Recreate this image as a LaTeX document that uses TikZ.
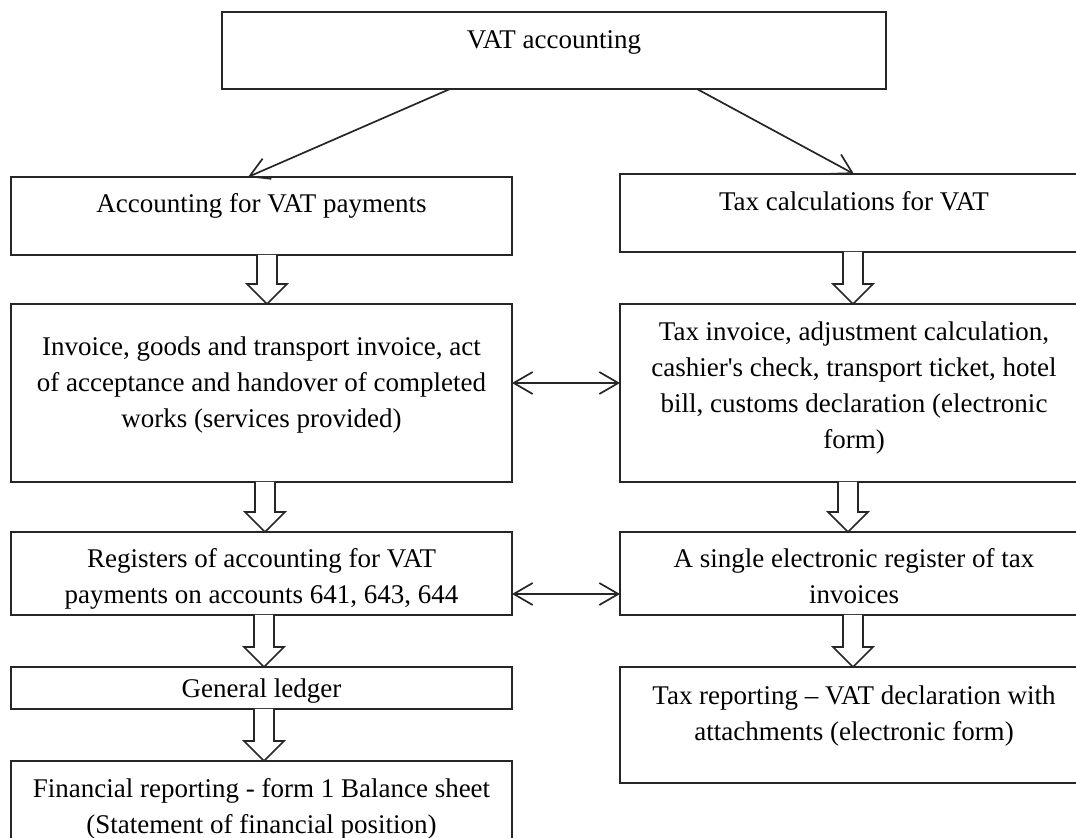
\documentclass[tikz,border=0pt]{standalone}
\usepackage{fontspec}
\setmainfont{Liberation Serif}
\usetikzlibrary{arrows.meta,calc,positioning}
\colorlet{linecol}{black!85}
\tikzstyle{box}=[draw=linecol,line width=1pt,inner sep=0pt,outer sep=0pt]
\tikzstyle{txt}=[inner sep=0pt,align=center,font=\fontsize{13.5}{18}\selectfont,execute at begin node=\strut]
\tikzset{
  wh/.style 2 args={minimum width=#1*0.5pt,minimum height=#2*0.5pt},
  link/.style={linecol,line width=0.85pt,-{Straight Barb[length=9.5pt,width=11pt]}},
  link2/.style={link,{Straight Barb[length=9.5pt,width=11pt]}-{Straight Barb[length=9.5pt,width=11pt]}},
  fat/.style={draw=linecol,fill=white,line width=0.85pt,line join=miter}}
\newcommand\fatArrow[3]{
  \coordinate (tmpT) at (#1,0 |- #2.south);
  \coordinate (tmpB) at (#1,0 |- #3.north);
  \draw[fat] ($(tmpT)+(-10,0)$) -- ($(tmpB)+(-10,20)$) -- ($(tmpB)+(-20,20)$)
    -- (tmpB) -- ($(tmpB)+(20,20)$) -- ($(tmpB)+(10,20)$) -- ($(tmpT)+(10,0)$);
}

\begin{document}
\begin{tikzpicture}[x=0.5pt,y=0.5pt]
  \useasboundingbox (0,0) rectangle (1076,-838);
  \clip (0,0) rectangle (1076,-838);

  % BOXES
  \node[box,wh={664}{77}] (vat) at (554,-50.5) {};
  \node[box,wh={501}{78}] (acc) at (261.5,-216) {};
  \node[box,wh={468}{78}] (calc) at (854,-213) {};
  \node[box,wh={501}{178}] (inv) at (261.5,-393) {};
  \node[box,wh={468}{178}] (taxinv) at (854,-393) {};
  \node[box,wh={501}{83}] (reg) at (261.5,-573.5) {};
  \node[box,wh={468}{83}] (ereg) at (854,-573.5) {};
  \node[box,wh={501}{42}] (ledger) at (261.5,-688) {};
  \node[box,wh={501}{89}] (fin) at (261.5,-805.5) {};
  \node[box,wh={468}{116}] (taxrep) at (854,-725) {};

  % TEXTS
  \node[txt,below=5.5pt of vat.north] (vat-t) {VAT accounting};
  \node[txt,below=5pt of acc.north] (acc-t) {Accounting for VAT payments};
  \node[txt,below=5.5pt of calc.north] (calc-t) {Tax calculations for VAT};
  \node[txt,below=16pt of inv.north] (inv-t) {Invoice, goods and transport invoice, act\\
    of acceptance and handover of completed\\ works (services provided)};
  \node[txt,below=8.5pt of taxinv.north] (taxinv-t) {Tax invoice, adjustment calculation,\\
    cashier\textquotesingle s check, transport ticket, hotel\\
    bill, customs declaration (electronic\\ form)};
  \node[txt,below=8pt of reg.north] (reg-t) {Registers of accounting for VAT\\
    payments on accounts 641, 643, 644};
  \node[txt,below=8pt of ereg.north] (ereg-t) {A single electronic register of tax\\ invoices};
  \node[txt,below=2.3pt of ledger.north] (ledger-t) {General ledger};
  \node[txt,below=8.5pt of fin.north] (fin-t) {Financial reporting - form 1 Balance sheet\\
    (Statement of financial position)};
  \node[txt,below=9pt of taxrep.north] (taxrep-t) {Tax reporting -- VAT declaration with\\
    attachments (electronic form)};

  % ARROWS
  \draw[link] (vat.south -| 450,0) -- (acc.north -| 248,0);
  \draw[link] (vat.south -| 697,0) -- (calc.north -| 854,0);
  \draw[link2] (inv.east |- 0,-383) -- (taxinv.west |- 0,-383);
  \draw[link2] (reg.east |- 0,-594) -- (ereg.west |- 0,-594);
  \fatArrow{267}{acc}{inv}
  \fatArrow{853}{calc}{taxinv}
  \fatArrow{265}{inv}{reg}
  \fatArrow{848}{taxinv}{ereg}
  \fatArrow{264}{reg}{ledger}
  \fatArrow{853}{ereg}{taxrep}
  \fatArrow{264}{ledger}{fin}
\end{tikzpicture}
\end{document}
